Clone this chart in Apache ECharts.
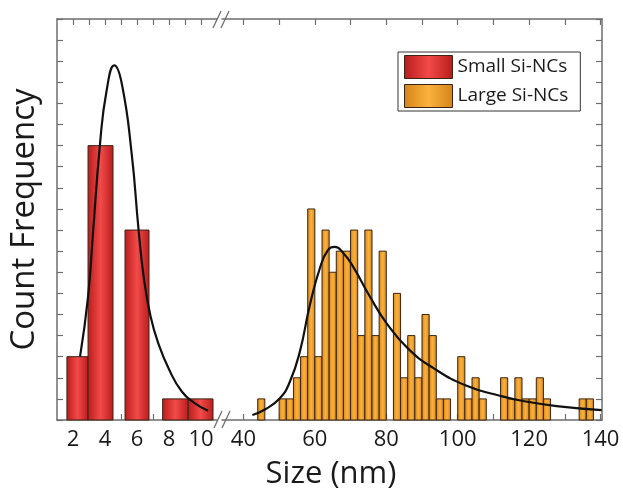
<!DOCTYPE html>
<html>
<head>
<meta charset="utf-8">
<script src="https://cdn.jsdelivr.net/npm/echarts@6.0.0/dist/echarts.min.js"></script>
<style>
html, body { margin: 0; padding: 0; background: #fff; }
#chart { width: 623px; height: 491px; }
</style>
</head>
<body>
<div id="chart"></div>
<script>
// small Si-NCs histogram (bin edges in nm, counts)
var smallBinStart = [1.62, 2.94, 5.25, 7.6, 9.2];
var smallBinEnd = [2.94, 4.5, 6.75, 9.2, 10.75];
var smallCounts = [3, 13, 9, 1, 1];

// large Si-NCs histogram, 2 nm bins (bin centres)
var largeCenters = [45, 47, 49, 51, 53, 55, 57, 59, 61, 63, 65, 67, 69, 71, 73, 75,
    77, 79, 81, 83, 85, 87, 89, 91, 93, 95, 97, 99, 101, 103, 105, 107, 109, 111,
    113, 115, 117, 119, 121, 123, 125, 127, 129, 131, 133, 135, 137];
var largeCounts = [1, 0, 0, 1, 1, 2, 3, 10, 3, 9, 7, 8, 8, 9, 4, 9,
    4, 8, 0, 6, 2, 4, 2, 5, 4, 1, 1, 0, 3, 1, 2, 1, 0, 0,
    2, 1, 2, 1, 1, 2, 1, 0, 0, 0, 0, 1, 1];

// fitted curves
var smallFitX = [2.44, 2.94, 3.25, 3.69, 4.1, 4.58, 5.06, 5.67, 6.1, 6.45, 6.85, 7.3, 8.0, 8.8, 9.6, 10.44];
var smallFitY = [3.0, 5.83, 8.86, 13.1, 15.6, 16.8, 15.9, 12.6, 9.0, 6.6, 4.9, 3.7, 2.4, 1.35, 0.8, 0.44];
var largeFitX = [42.5, 46, 50.2, 53.0, 55.8, 58.6, 61.4, 63.7, 65.6, 68, 70.7, 75.4, 80.1, 86.1, 93.1, 102.5, 111.8, 118.3, 127.7, 140.3];
var largeFitY = [0.24, 0.5, 1.03, 1.81, 3.24, 5.45, 7.19, 8.06, 8.2, 7.9, 7.27, 5.85, 4.58, 3.38, 2.47, 1.62, 1.15, 0.9, 0.66, 0.47];

var smallTicks = [2, 3, 4, 5, 6, 7, 8, 9, 10];
var smallLabels = [2, 4, 6, 8, 10];
var largeTicks = [40, 50, 60, 70, 80, 90, 100, 110, 120, 130, 140];
var largeLabels = [40, 60, 80, 100, 120, 140];

var chart = echarts.init(document.getElementById('chart'));

var redFill = new echarts.graphic.LinearGradient(0, 0, 1, 0, [
    {offset: 0, color: '#b81c1c'}, {offset: 0.5, color: '#f24a48'}, {offset: 1, color: '#b81c1c'}
]);
var orangeFill = new echarts.graphic.LinearGradient(0, 0, 1, 0, [
    {offset: 0, color: '#d48418'}, {offset: 0.5, color: '#fbb23e'}, {offset: 1, color: '#d48418'}
]);
var lineCol = '#6e6e6e';

function rectItem(fill) {
    return function (params, api) {
        var p0 = api.coord([api.value(0), api.value(2)]);
        var p1 = api.coord([api.value(1), 0]);
        return {
            type: 'rect',
            shape: {x: p0[0], y: p0[1], width: p1[0] - p0[0], height: p1[1] - p0[1]},
            style: {fill: fill, stroke: '#3b2415', lineWidth: 1}
        };
    };
}

var smallData = smallCounts.map(function (c, i) {
    return [smallBinStart[i], smallBinEnd[i], c];
});
var largeData = largeCounts.map(function (c, i) {
    return [largeCenters[i] - 1, largeCenters[i] + 1, c];
}).filter(function (d) { return d[2] > 0; });

function xAx(grid, pos, min, max, ticks, labels) {
    return {
        type: 'value', gridIndex: grid, position: pos, min: min, max: max,
        splitLine: {show: false},
        axisLine: {show: true, onZero: false, lineStyle: {color: lineCol, width: 1.5}},
        axisTick: {show: true, inside: true, length: 6, customValues: ticks, lineStyle: {color: lineCol, width: 1.2}},
        axisLabel: {show: pos === 'bottom', customValues: labels, margin: 9,
            fontFamily: 'Open Sans', fontSize: 22, color: '#1a1a1a'}
    };
}
function yAx(grid, pos, extra) {
    var a = {
        type: 'value', gridIndex: grid, position: pos, min: 0, max: 19, interval: 1,
        splitLine: {show: false},
        axisLine: {show: true, lineStyle: {color: lineCol, width: 1.5}},
        axisTick: {show: true, inside: true, length: 6, lineStyle: {color: lineCol, width: 1.2}},
        axisLabel: {show: false}
    };
    return Object.assign(a, extra || {});
}

var option = {
    animation: false,
    grid: [
        {left: 57, top: 19, width: 160, height: 401},
        {left: 222, top: 19, right: 21, height: 401}
    ],
    xAxis: [
        xAx(0, 'bottom', 1, 11, smallTicks, smallLabels),
        xAx(1, 'bottom', 34, 140.4, largeTicks, largeLabels),
        xAx(0, 'top', 1, 11, smallTicks, smallLabels),
        xAx(1, 'top', 34, 140.4, largeTicks, largeLabels)
    ],
    yAxis: [
        yAx(0, 'left', {
            name: 'Count Frequency', nameLocation: 'middle', nameGap: 16,
            nameTextStyle: {fontFamily: 'Open Sans', fontSize: 33, color: '#1a1a1a'}
        }),
        yAx(1, 'right')
    ],
    legend: {
        orient: 'vertical', left: 398, top: 52,
        itemWidth: 48, itemHeight: 23, itemGap: 5,
        padding: [3, 12, 3, 6],
        borderColor: '#333', borderWidth: 1,
        textStyle: {fontFamily: 'Open Sans', fontSize: 19, color: '#1a1a1a'},
        data: [
            {name: 'Small Si-NCs', icon: 'rect', itemStyle: {color: redFill, borderColor: '#3b2415', borderWidth: 1}},
            {name: 'Large Si-NCs', icon: 'rect', itemStyle: {color: orangeFill, borderColor: '#3b2415', borderWidth: 1}}
        ]
    },
    graphic: [
        {type: 'text', x: 331, y: 459,
            style: {text: 'Size (nm)', align: 'center', fontFamily: 'Open Sans', fontSize: 31, fill: '#1a1a1a'}},
        {type: 'line', shape: {x1: 213, y1: 28, x2: 221, y2: 11}, style: {stroke: lineCol, lineWidth: 1.3}},
        {type: 'line', shape: {x1: 221, y1: 28, x2: 229, y2: 11}, style: {stroke: lineCol, lineWidth: 1.3}},
        {type: 'line', shape: {x1: 214, y1: 428, x2: 222, y2: 411}, style: {stroke: lineCol, lineWidth: 1.3}},
        {type: 'line', shape: {x1: 222, y1: 428, x2: 230, y2: 411}, style: {stroke: lineCol, lineWidth: 1.3}}
    ],
    series: [
        {
            name: 'Small Si-NCs', type: 'custom', xAxisIndex: 0, yAxisIndex: 0,
            itemStyle: {color: redFill},
            renderItem: rectItem(redFill), data: smallData, z: 2
        },
        {
            name: 'Large Si-NCs', type: 'custom', xAxisIndex: 1, yAxisIndex: 1,
            itemStyle: {color: orangeFill},
            renderItem: rectItem(orangeFill), data: largeData, z: 2
        },
        {
            name: 'small fit', type: 'line', xAxisIndex: 0, yAxisIndex: 0, smooth: 0.5,
            showSymbol: false, lineStyle: {color: '#111', width: 2.2}, z: 5,
            data: smallFitX.map(function (x, i) { return [x, smallFitY[i]]; })
        },
        {
            name: 'large fit', type: 'line', xAxisIndex: 1, yAxisIndex: 1, smooth: 0.5,
            showSymbol: false, lineStyle: {color: '#111', width: 2.2}, z: 5,
            data: largeFitX.map(function (x, i) { return [x, largeFitY[i]]; })
        }
    ]
};

chart.setOption(option);
</script>
</body>
</html>
